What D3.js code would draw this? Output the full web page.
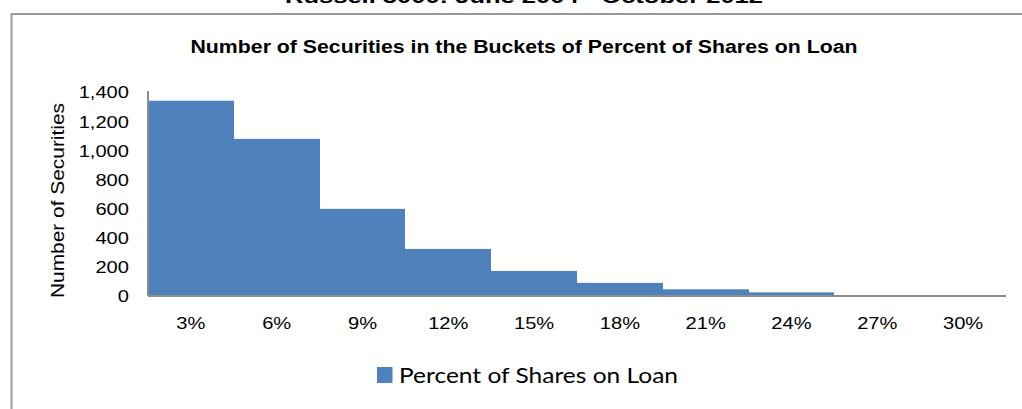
<!DOCTYPE html>
<html><head><meta charset="utf-8">
<script src="https://cdn.jsdelivr.net/npm/d3@7"></script>
<style>body{margin:0;background:#fff;}svg{display:block;}</style>
</head><body>
<svg id="c" width="1022" height="409"></svg>
<script>
const categories = ["3%","6%","9%","12%","15%","18%","21%","24%","27%","30%"];
const values = [1340, 1078, 598, 323, 172, 90, 46, 25, 3, 1];
const yTicks = [0,200,400,600,800,1000,1200,1400];
const seriesName = "Percent of Shares on Loan";

(function(){
const svg = d3.select("#c");
const color = "#4F81BD";
const axisColor = "#8c8c8c";
const font = "Liberation Sans, Arial, sans-serif";
const mLeft = 148, mRight = 1006, mTop = 92, mBottom = 296;

// outer frame
svg.append("path").attr("d","M11.5,409 L11.5,14 L1022,14")
  .attr("fill","none").attr("stroke","#999").attr("stroke-width",2);

// cut-off top title
svg.append("text").attr("x",524).attr("y",2.5).attr("text-anchor","middle")
  .attr("font-family",font).attr("font-weight","bold")
  .attr("font-size",18).attr("textLength",478).attr("lengthAdjust","spacingAndGlyphs")
  .text("Russell 3000: June 2004 - October 2012");

const x = d3.scaleBand().domain(categories).range([mLeft,mRight]).padding(0);
const y = d3.scaleLinear().domain([0,1400]).range([mBottom,mTop]);

svg.selectAll("rect.bar").data(values).enter().append("rect").attr("class","bar")
  .attr("x",(d,i)=>Math.round(x(categories[i]))).attr("width",(d,i)=>Math.round(x(categories[i])+x.bandwidth())-Math.round(x(categories[i])))
  .attr("y",d=>y(d)).attr("height",d=>mBottom-y(d)).attr("fill",color);

// y axis
const ya = svg.append("g").attr("transform",`translate(${mLeft},0)`)
  .call(d3.axisLeft(y).tickValues(yTicks).tickSize(0).tickPadding(19).tickFormat(d3.format(",")));
ya.select(".domain").attr("stroke",axisColor).attr("stroke-width",2).attr("d",`M0,${mBottom}V${mTop-1}`);
ya.selectAll("text").attr("font-family",font).attr("font-size",16.5).attr("fill","#000")
  .attr("x",0).attr("dy","0.36em").attr("transform","translate(-19,0) scale(1.22,1)");

// x axis
const xa = svg.append("g").attr("transform",`translate(0,${mBottom})`)
  .call(d3.axisBottom(x).tickSize(0).tickPadding(17));
xa.select(".domain").attr("stroke",axisColor).attr("stroke-width",2).attr("d",`M${mLeft},0H${mRight}`);
xa.selectAll("text").attr("font-family",font).attr("font-size",16.5).attr("fill","#000")
  .attr("y",33).attr("dy","0").attr("transform","scale(1.22,1)");

// chart title
svg.append("text").attr("x",524).attr("y",53).attr("text-anchor","middle")
  .attr("font-family",font).attr("font-weight","bold")
  .attr("font-size",18).attr("textLength",667).attr("lengthAdjust","spacingAndGlyphs")
  .text("Number of Securities in the Buckets of Percent of Shares on Loan");

// y axis title
svg.append("text").attr("transform","translate(64,200.5) rotate(-90)").attr("text-anchor","middle")
  .attr("font-family",font).attr("font-size",18.5)
  .attr("textLength",195).attr("lengthAdjust","spacingAndGlyphs")
  .text("Number of Securities");

// legend
svg.append("rect").attr("x",377).attr("y",367).attr("width",15.5).attr("height",16).attr("fill",color);
svg.append("text").attr("x",399).attr("y",382.5)
  .attr("font-family","Lato, Carlito, sans-serif").attr("font-size",21)
  .attr("textLength",279).attr("lengthAdjust","spacingAndGlyphs").text(seriesName);
})();
</script>
</body></html>
